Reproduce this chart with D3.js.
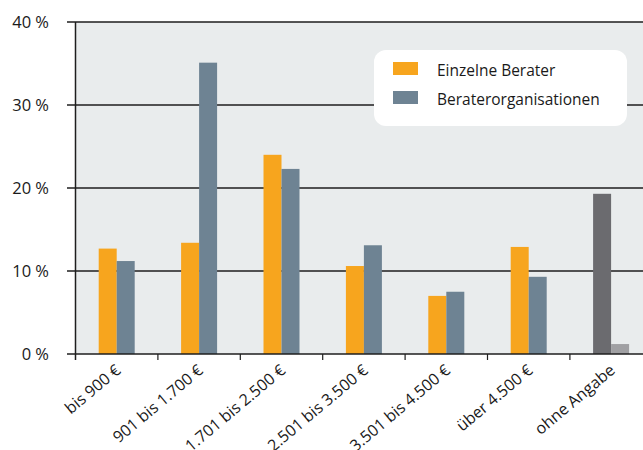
<!DOCTYPE html>
<html><head><meta charset="utf-8">
<script src="https://cdn.jsdelivr.net/npm/d3@7"></script>
<style>html,body{margin:0;padding:0;background:#fff;}svg{display:block;font-family:"Open Sans","Noto Sans",sans-serif;}</style>
</head><body>
<svg id="c" width="643" height="450"></svg>
<script>
const categories = ["bis 900 €","901 bis 1.700 €","1.701 bis 2.500 €","2.501 bis 3.500 €","3.501 bis 4.500 €","über 4.500 €","ohne Angabe"];
const einzelne = [12.7, 13.4, 24.0, 10.6, 7.0, 12.9, 19.3];
const organisationen = [11.2, 35.1, 22.3, 13.1, 7.5, 9.3, 1.2];
const seriesNames = ["Einzelne Berater","Beraterorganisationen"];
const yTicks = [0,10,20,30,40];
const colors = ["#f7a51e","#6e8393"];
const colorsNA = ["#6b6b6f","#a0a0a3"];

(function(){
const svg = d3.select("#c");
const mLeft = 75.5, mTop = 22, mBottom = 354;
const step = 82.4;
const x = d3.scaleBand().domain(categories).range([mLeft, mLeft + step*categories.length]).paddingInner(0).paddingOuter(0);
const y = d3.scaleLinear().domain([0,40]).range([mBottom, mTop]);
const barW = 18;

svg.append("rect").attr("x", mLeft).attr("y", mTop).attr("width", 643-mLeft).attr("height", mBottom-mTop).attr("fill","#e9eced");

// gridlines
svg.append("g").selectAll("line").data(yTicks.filter(d=>d>0)).join("line")
  .attr("x1", 67).attr("x2", 643).attr("y1", d=>y(d)).attr("y2", d=>y(d))
  .attr("stroke","#1e1e1e").attr("stroke-width",1.5);

// bars
const g = svg.append("g");
categories.forEach((c,i)=>{
  const cx = x(c) + x.bandwidth()/2;
  const vals = [einzelne[i], organisationen[i]];
  const cols = c === "ohne Angabe" ? colorsNA : colors;
  vals.forEach((v,j)=>{
    g.append("rect").attr("x", cx - barW + j*barW).attr("y", y(v)).attr("width", barW).attr("height", y(0)-y(v)).attr("fill", cols[j]);
  });
});

// axes lines
svg.append("line").attr("x1",67).attr("x2",643).attr("y1",y(0)).attr("y2",y(0)).attr("stroke","#1e1e1e").attr("stroke-width",1.5);
svg.append("line").attr("x1",mLeft).attr("x2",mLeft).attr("y1",mTop).attr("y2",mBottom+6).attr("stroke","#1e1e1e").attr("stroke-width",1.5);

// y tick labels
svg.append("g").selectAll("text").data(yTicks).join("text")
  .attr("x", 49).attr("y", d=>y(d)+6).attr("text-anchor","end")
  .attr("font-size",16.5).attr("fill","#1a1a1a").text(d=>d+" %");

// x ticks
svg.append("g").selectAll("line").data(categories.slice(1)).join("line")
  .attr("x1", d=>x(d)).attr("x2", d=>x(d)).attr("y1", mBottom).attr("y2", mBottom+6)
  .attr("stroke","#1e1e1e").attr("stroke-width",1.2);

// x labels
svg.append("g").selectAll("text").data(categories).join("text")
  .attr("transform", d=>`translate(${x(d)+x.bandwidth()/2+5},${mBottom+18}) rotate(-40)`)
  .attr("text-anchor","end").attr("font-size",16).attr("fill","#1a1a1a").text(d=>d);

// legend
const lg = svg.append("g");
lg.append("rect").attr("x",374).attr("y",50).attr("width",253).attr("height",76).attr("rx",12).attr("fill","#fff");
seriesNames.forEach((s,i)=>{
  lg.append("rect").attr("x",393).attr("y",62+i*29).attr("width",25).attr("height",13).attr("fill",colors[i]);
  lg.append("text").attr("x",437).attr("y",75.5+i*29).attr("font-size",15.5).attr("fill","#1a1a1a").text(s);
});
})();
</script>
</body></html>
